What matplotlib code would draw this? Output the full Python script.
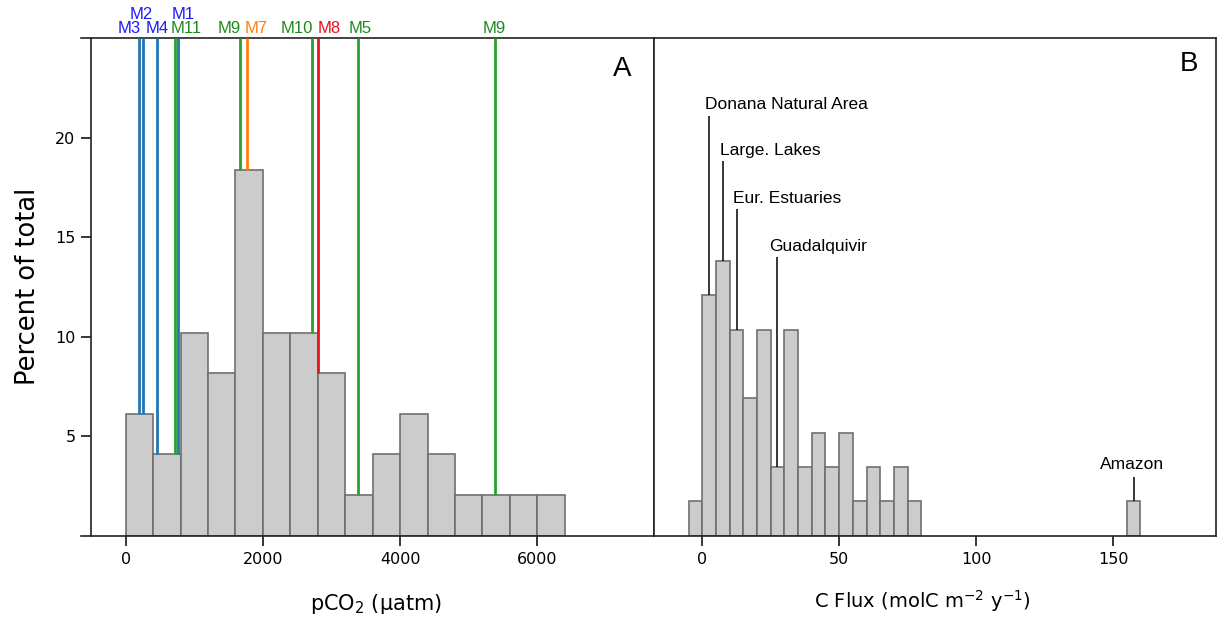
import numpy as np
import matplotlib
matplotlib.use('Agg')
import matplotlib.pyplot as plt

# panel A: pCO2 histogram (bin edges, counts per bin)
pco2_edges = [0, 400, 800, 1200, 1600, 2000, 2400, 2800, 3200, 3600, 4000, 4400, 4800, 5200, 5600, 6000, 6400]
pco2_counts = [3, 2, 5, 4, 9, 5, 5, 4, 1, 2, 3, 2, 1, 1, 1, 1]

# sites marked above panel A
site_names = ['M3', 'M2', 'M4', 'M11', 'M1', 'M9', 'M7', 'M10', 'M8', 'M5', 'M9']
site_pco2 = [193, 245, 459, 724, 756, 1668, 1762, 2715, 2804, 3382, 5379]
site_label_x = [57, 230, 453, 881, 840, 1506, 1907, 2496, 2960, 3424, 5373]
site_row = [0, 1, 0, 0, 1, 0, 0, 0, 0, 0, 0]
site_line_col = ['#1f77b4', '#1f77b4', '#1f77b4', '#2ca02c', '#1f77b4', '#2ca02c', '#ff7f0e',
                 '#2ca02c', '#e8141c', '#2ca02c', '#2ca02c']
site_text_col = ['#1a1aff', '#1a1aff', '#1a1aff', '#1f8a1f', '#1a1aff', '#1f8a1f', '#ff7f0e',
                 '#1f8a1f', '#e8141c', '#1f8a1f', '#1f8a1f']

# panel B: C flux histogram
flux_edges = [-5, 0, 5, 10, 15, 20, 25, 30, 35, 40, 45, 50, 55, 60, 65, 70, 75, 80,
              155, 160]
flux_counts = [1, 7, 8, 6, 4, 6, 2, 6, 2, 3, 2, 3, 1, 2, 1, 2, 1, 0, 1]

ref_names = ['Donana Natural Area', 'Large. Lakes', 'Eur. Estuaries', 'Guadalquivir', 'Amazon']
ref_flux = [2.4, 7.7, 12.7, 27.2, 157.5]
ref_text_x = [0.85, 6.4, 11.2, 24.6, 157.0]
ref_text_y = [21.65, 19.35, 16.95, 14.55, 3.6]
ref_line_top = [21.1, 18.8, 16.4, 14.0, 2.95]
ref_ha = ['left', 'left', 'left', 'left', 'center']


def to_pct(counts):
    counts = np.asarray(counts, dtype=float)
    return counts / counts.sum() * 100


def height_at(x, edges, pct):
    i = np.searchsorted(edges, x, side='right') - 1
    return pct[i]


fig = plt.figure(figsize=(12.17, 6.17), dpi=100)
ax_a = fig.add_axes([81 / 1217, 81.3 / 617, 573 / 1217, 497.7 / 617])
ax_b = fig.add_axes([654 / 1217, 81.3 / 617, 562 / 1217, 497.7 / 617])

bar_kw = dict(align='edge', color='#cccccc', edgecolor='#707070', linewidth=1.2)

# panel A
pco2_pct = to_pct(pco2_counts)
pe = np.array(pco2_edges, dtype=float)
ax_a.bar(pe[:-1], pco2_pct, width=np.diff(pe), **bar_kw)
for name, x, lx, row, lc, tc in zip(site_names, site_pco2, site_label_x, site_row,
                                    site_line_col, site_text_col):
    ax_a.vlines(x, height_at(x, pe, pco2_pct), 25, color=lc, linewidth=2, zorder=3)
    ax_a.text(lx, 25.1 + row * 0.68, name, color=tc, ha='center', va='bottom',
              fontsize=12, family='Liberation Sans', clip_on=False)

ax_a.set_xlim(-652, 7701)
ax_a.set_ylim(0, 25)
ax_a.spines['left'].set_position(('data', -500))
ax_a.set_xticks([0, 2000, 4000, 6000])
ax_a.set_yticks([5, 10, 15, 20])
ax_a.set_xlabel('pCO$_2$ (µatm)', fontsize=15)
ax_a.xaxis.set_label_coords(0.515, -0.113)
ax_a.set_ylabel('Percent of total', fontsize=18.5, labelpad=10)
ax_a.text(0.945, 0.938, 'A', transform=ax_a.transAxes, ha='center', va='center',
          fontsize=20, family='Liberation Sans')

# panel B
flux_pct = to_pct(flux_counts)
fe = np.array(flux_edges, dtype=float)
keep = flux_pct > 0
ax_b.bar(fe[:-1][keep], flux_pct[keep], width=np.diff(fe)[keep], **bar_kw)
for name, x, tx, ty, top, ha in zip(ref_names, ref_flux, ref_text_x, ref_text_y,
                                     ref_line_top, ref_ha):
    ax_b.vlines(x, height_at(x, fe, flux_pct), top, color='black', linewidth=1.1)
    ax_b.text(tx, ty, name, ha=ha, va='center', fontsize=12.5, family='Liberation Sans')

ax_b.set_xlim(-17.6, 187.6)
ax_b.set_ylim(0, 25)
ax_b.set_xticks([0, 50, 100, 150])
ax_b.set_yticks([])
ax_b.set_xlabel('C Flux (molC m$^{-2}$ y$^{-1}$)', fontsize=14)
ax_b.xaxis.set_label_coords(0.477, -0.105)
ax_b.text(0.952, 0.947, 'B', transform=ax_b.transAxes, ha='center', va='center',
          fontsize=20, family='Liberation Sans')

for ax in (ax_a, ax_b):
    for sp in ax.spines.values():
        sp.set_linewidth(1.2)
        sp.set_color('#222222')
    ax.tick_params(direction='out', length=7.5, width=1.1, labelsize=11.5, pad=4)

fig.savefig('out.png', dpi=100)
